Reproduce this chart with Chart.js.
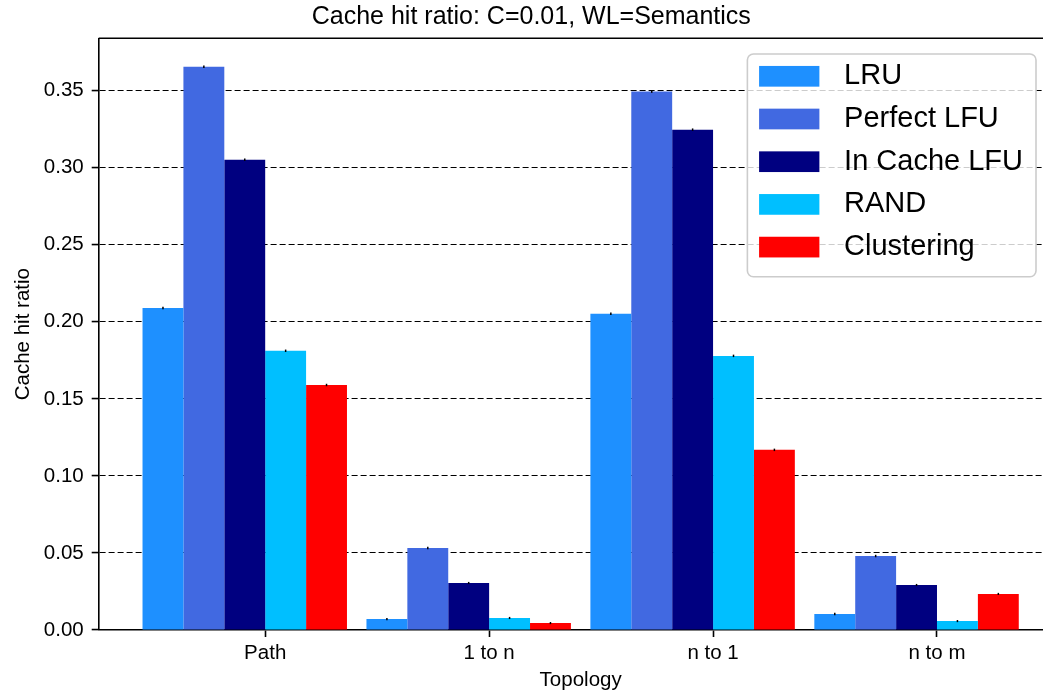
<!DOCTYPE html>
<html><head><meta charset="utf-8">
<script src="https://cdn.jsdelivr.net/npm/chart.js@4.4.1/dist/chart.umd.min.js"></script>
<style>html,body{margin:0;padding:0;overflow:hidden;background:#fff;width:1043px;height:697px}canvas{display:block}</style>
</head><body>
<canvas id="c" width="1100" height="697"></canvas>
<script>
// ---- data ----
const categories = ['Path', '1 to n', 'n to 1', 'n to m'];
const seriesNames = ['LRU', 'Perfect LFU', 'In Cache LFU', 'RAND', 'Clustering'];
const lruValues        = [0.2090, 0.0071, 0.2052, 0.0104];
const perfectLfuValues = [0.3656, 0.0532, 0.3494, 0.0480];
const inCacheLfuValues = [0.3052, 0.0305, 0.3247, 0.0292];
const randValues       = [0.1812, 0.0078, 0.1779, 0.0058];
const clusteringValues = [0.1590, 0.0045, 0.1169, 0.0234];
const lruErrors        = [0.0008, 0.0007, 0.0008, 0.0008];
const perfectLfuErrors = [0.0008, 0.0008, 0.0008, 0.0008];
const inCacheLfuErrors = [0.0008, 0.0007, 0.0008, 0.0007];
const randErrors       = [0.0008, 0.0007, 0.0008, 0.0007];
const clusteringErrors = [0.0008, 0.0007, 0.0008, 0.0007];
const yTickValues = [0, 0.05, 0.10, 0.15, 0.20, 0.25, 0.30, 0.35];

// ---- styles ----
const seriesColors = ['#1E90FF', '#4169E1', '#000080', '#00BFFF', '#FF0000'];
const FONT = "'Liberation Sans', Arial, Helvetica, sans-serif";
const BAR_W = 0.1826;  // bar width in category-spacing units

const seriesValues = [lruValues, perfectLfuValues, inCacheLfuValues, randValues, clusteringValues];
const seriesErrors = [lruErrors, perfectLfuErrors, inCacheLfuErrors, randErrors, clusteringErrors];

const datasets = seriesValues.map((vals, k) => ({
  label: seriesNames[k],
  data: vals.map((v, i) => ({ x: i - BAR_W / 2, y: v })),
  errors: seriesErrors[k],
  backgroundColor: seriesColors[k],
  borderWidth: 0,
  categoryPercentage: BAR_W * seriesNames.length,
  barPercentage: 1
}));

const errorBarPlugin = {
  id: 'errorBars',
  afterDatasetsDraw(chart) {
    const ctx = chart.ctx, ys = chart.scales.y;
    ctx.save();
    ctx.strokeStyle = '#000';
    ctx.lineWidth = 1.5;
    chart.data.datasets.forEach((ds, k) => {
      const meta = chart.getDatasetMeta(k);
      meta.data.forEach((bar, i) => {
        const v = ds.data[i].y, e = ds.errors[i];
        ctx.beginPath();
        ctx.moveTo(bar.x, ys.getPixelForValue(v - e));
        ctx.lineTo(bar.x, ys.getPixelForValue(v + e));
        ctx.stroke();
      });
    });
    ctx.restore();
  }
};

const framePlugin = {
  id: 'frame',
  afterDatasetsDraw(chart) {
    const {ctx, chartArea: a} = chart;
    ctx.save();
    ctx.strokeStyle = '#000';
    ctx.lineWidth = 1.6;
    ctx.beginPath();
    ctx.moveTo(a.left, a.top);
    ctx.lineTo(a.right, a.top);
    ctx.lineTo(a.right, a.bottom);
    ctx.stroke();
    ctx.restore();
  }
};

const legendPlugin = {
  id: 'boxLegend',
  afterDraw(chart) {
    const {ctx, chartArea: a} = chart;
    const fs = 29;
    ctx.save();
    ctx.font = fs + 'px ' + FONT;
    const items = chart.data.datasets;
    let maxW = 0;
    items.forEach(d => { maxW = Math.max(maxW, ctx.measureText(d.label).width); });
    const textOff = 96.7, rowH = 42.7, firstRow = 22.3;
    const w = textOff + maxW + 13;
    const h = firstRow + rowH * (items.length - 1) + 29.7;
    const right = a.right - 26.6;
    const x = right - w, y = a.top + 15.7;
    ctx.beginPath();
    ctx.roundRect(x, y, w, h, 6);
    ctx.fillStyle = 'rgba(255,255,255,0.8)';
    ctx.fill();
    ctx.lineWidth = 1.6;
    ctx.strokeStyle = '#cccccc';
    ctx.stroke();
    items.forEach((d, k) => {
      const cy = y + firstRow + rowH * k;
      ctx.fillStyle = d.backgroundColor;
      ctx.fillRect(x + 11.7, cy - 10.35, 60.3, 20.7);
      ctx.fillStyle = '#000';
      ctx.textBaseline = 'middle';
      ctx.textAlign = 'left';
      ctx.fillText(d.label, x + textOff, cy);
    });
    ctx.restore();
  }
};

new Chart(document.getElementById('c'), {
  type: 'bar',
  data: { datasets },
  plugins: [errorBarPlugin, framePlugin, legendPlugin],
  options: {
    responsive: false,
    animation: false,
    devicePixelRatio: 1,
    layout: { padding: { left: 0, top: 0, right: 37.4, bottom: 0 } },
    plugins: {
      legend: { display: false },
      tooltip: { enabled: false },
      title: {
        display: true,
        text: 'Cache hit ratio: C=0.01, WL=Semantics',
        color: '#000',
        font: { family: FONT, size: 25, weight: 'normal' },
        padding: { top: 2.5, bottom: 5.8 }
      }
    },
    scales: {
      x: {
        type: 'linear',
        min: -0.7435,
        max: 3.5609,
        offset: false,
        afterBuildTicks: s => { s.ticks = categories.map((_, i) => ({ value: i })); },
        afterFit: s => { s.height = 67; },
        grid: { display: true, drawOnChartArea: false, drawTicks: true, tickLength: 7, color: '#000', tickColor: '#000', tickWidth: 1.6, offset: false },
        border: { display: true, color: '#000', width: 1.6 },
        ticks: { callback: v => categories[v] ?? '', color: '#000', font: { family: FONT, size: 20.5 }, padding: 4, maxRotation: 0, autoSkip: false },
        title: { display: true, text: 'Topology', color: '#000', font: { family: FONT, size: 20.5 }, padding: { top: 0, bottom: 3.9 } }
      },
      y: {
        min: 0,
        max: 0.384,
        afterBuildTicks: s => { s.ticks = yTickValues.map(v => ({ value: v })); },
        afterFit: s => { s.width = 98.7; },
        grid: { color: '#000', lineWidth: 1.1, drawTicks: true, tickLength: 7, tickColor: '#000', tickWidth: 1.6, tickBorderDash: [] },
        border: { display: true, color: '#000', width: 1.6, dash: [6, 3] },
        ticks: { callback: v => v.toFixed(2), color: '#000', font: { family: FONT, size: 20.5 }, padding: 8 },
        title: { display: true, text: 'Cache hit ratio', color: '#000', font: { family: FONT, size: 20.5 }, padding: { top: 10.6, bottom: 0 } }
      }
    }
  }
});
</script>
</body></html>
